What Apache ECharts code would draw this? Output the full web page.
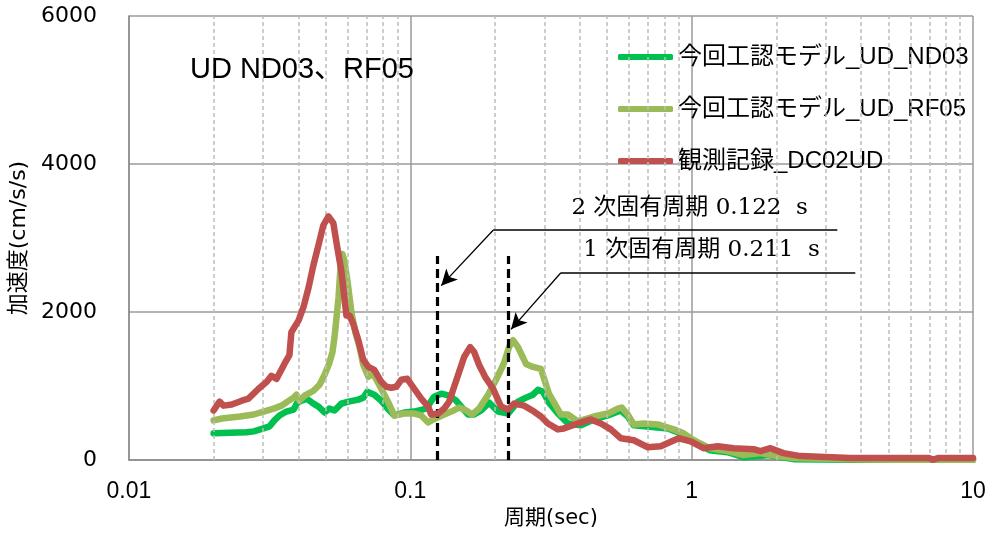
<!DOCTYPE html>
<html><head><meta charset="utf-8">
<script src="https://cdn.jsdelivr.net/npm/echarts@6/dist/echarts.min.js"></script>
<style>html,body{margin:0;padding:0;background:#fff}#c{width:1006px;height:534px}</style>
</head><body><div id="c"></div>
<script>
// ---- data ----
const nd03Period = [0.0200,0.0262,0.0278,0.0301,0.0316,0.0329,0.0343,0.0363,0.0385,0.0397,0.0411,0.0428,0.0453,0.0472,0.0496,0.0516,0.0538,0.0569,0.0603,0.0654,0.0681,0.0704,0.0745,0.0789,0.0836,0.0878,0.0952,0.1033,0.1139,0.1216,0.1288,0.1375,0.1456,0.1517,0.1606,0.1687,0.1786,0.1906,0.2051,0.2226,0.2415,0.2578,0.2730,0.2844,0.2963,0.3111,0.3348,0.3633,0.4041,0.4493,0.5037,0.5601,0.5929,0.6227,0.8221,0.9367,0.9919,1.158,1.342,1.529,1.860,2.299,3.663,10];
const nd03Accel  = [362,375,388,428,455,536,603,656,683,777,803,830,763,723,643,696,670,763,790,817,844,924,884,803,683,603,643,656,696,857,897,870,803,723,616,616,670,777,656,629,790,844,884,951,924,777,629,495,469,549,603,670,589,469,428,348,281,134,107,40,67,13,5,5];

const rf05Period = [0.0200,0.0214,0.0248,0.0278,0.0301,0.0327,0.0349,0.0366,0.0385,0.0394,0.0404,0.0421,0.0453,0.0476,0.0496,0.0516,0.0529,0.0538,0.0547,0.0556,0.0565,0.0574,0.0583,0.0598,0.0618,0.0638,0.0660,0.0681,0.0710,0.0739,0.0789,0.0836,0.0878,0.0952,0.1033,0.1094,0.1158,0.1207,0.1320,0.1398,0.1492,0.1580,0.1659,0.1757,0.1891,0.2018,0.2154,0.2244,0.2319,0.2415,0.2578,0.2730,0.2914,0.3111,0.3431,0.3633,0.3942,0.4493,0.5037,0.5466,0.5647,0.5929,0.6227,0.6757,0.7576,0.8633,0.9367,0.9919,1.068,1.158,1.342,1.529,1.757,2.018,2.299,3.663,5,10];
const rf05Accel  = [536,562,589,616,656,696,736,790,844,884,803,870,937,1018,1152,1312,1460,1660,1928,2196,2598,2785,2705,2424,1995,1727,1526,1285,1125,1165,964,777,603,629,629,603,509,549,616,656,710,670,616,696,884,1085,1312,1526,1620,1526,1299,1259,1232,897,616,616,522,589,629,696,710,616,482,495,482,415,362,295,228,161,121,67,94,54,27,13,5,5];

const obsPeriod = [0.0200,0.0210,0.0217,0.0232,0.0252,0.0266,0.0289,0.0309,0.0321,0.0335,0.0357,0.0372,0.0378,0.0401,0.0417,0.0435,0.0453,0.0472,0.0491,0.0512,0.0533,0.0547,0.0569,0.0583,0.0593,0.0608,0.0628,0.0654,0.0681,0.0710,0.0745,0.0789,0.0822,0.0856,0.0892,0.0929,0.0976,0.1033,0.1094,0.1158,0.1187,0.1257,0.1320,0.1375,0.1432,0.1492,0.1554,0.1632,0.1687,0.1757,0.1845,0.1970,0.2102,0.2226,0.2338,0.2537,0.2753,0.2914,0.3086,0.3348,0.3517,0.3942,0.4384,0.4757,0.5162,0.5601,0.6227,0.6982,0.7764,0.8993,0.9919,1.103,1.237,1.409,1.659,1.757,1.906,2.120,2.435,3.663,7.0,7.2,7.5,10];
const obsAccel  = [670,790,736,750,803,830,964,1058,1138,1098,1299,1419,1727,1888,2062,2330,2638,2906,3173,3294,3200,2932,2557,2196,1955,1955,1834,1620,1352,1259,1218,1058,991,977,991,1085,1098,964,830,723,616,629,696,790,991,1192,1393,1526,1460,1285,1125,964,723,683,763,736,656,589,495,415,428,495,549,495,415,295,268,174,187,295,254,161,187,161,147,121,161,94,54,27,27,5,27,27];

const seriesNames = ['今回工認モデル_UD_ND03','今回工認モデル_UD_RF05','観測記録_DC02UD'];
const seriesColors = ['#00C050','#9BBB59','#C0504D'];
const xTickLabels = ['0.01','0.1','1','10'];
const minorGridPeriods = [0.02,0.03,0.04,0.05,0.06,0.07,0.08,0.09,0.2,0.3,0.4,0.5,0.6,0.7,0.8,0.9,2,3,4,5,6,7,8,9];

// annotations (data space)
const modePeriods = [0.1246, 0.2226];
const modeLineTop = 2758;
const underlines = [[[0.197,3106],[3.294,3106]],[[0.343,2531],[3.816,2531]]];
const arrows = [[[0.197,3106],[0.1288,2357]],[[0.343,2531],[0.2281,1767]]];
const noteTexts = ['2 次固有周期 0.122  s','1 次固有周期 0.211  s'];
const notePos = [[0.984,3401],[1.085,2839]];

const zip = (a,b) => a.map((v,i)=>[v,b[i]]);
const sans = "'Liberation Sans', 'Noto Sans CJK JP', sans-serif";
const wide = "'DejaVu Sans', 'Noto Sans CJK JP', sans-serif";
const serif = "'DejaVu Serif', 'Noto Sans CJK JP', serif";

const chart = echarts.init(document.getElementById('c'));
const dataSeries = [[nd03Period,nd03Accel],[rf05Period,rf05Accel],[obsPeriod,obsAccel]].map((d,i)=>({
  name: seriesNames[i], type:'line', data: zip(d[0],d[1]), symbol:'none', showSymbol:false,
  smooth:false, z: 3+i,
  lineStyle:{color:seriesColors[i], width:6.5, cap:'round', join:'round'},
  itemStyle:{color:seriesColors[i]}
}));

chart.setOption({
  animation:false,
  backgroundColor:'#fff',
  title:{text:'UD ND03、RF05', left:190, top:55, padding:0,
    textStyle:{fontFamily:sans, fontSize:29, fontWeight:'normal', color:'#000'}},
  legend:{data:seriesNames, orient:'vertical', left:618, top:45, padding:0,
    icon:'roundRect', itemWidth:55, itemHeight:6, itemGap:28,
    lineStyle:{width:0, opacity:0},
    textStyle:{fontFamily:sans, fontSize:24, color:'#000'}},
  grid:{left:127, right:33, top:16, bottom:70},
  xAxis:{type:'log', logBase:10, min:0.01, max:10,
    name:'周期(sec)', nameLocation:'middle', nameGap:42,
    nameTextStyle:{fontFamily:wide, fontSize:21, color:'#000'},
    axisLine:{show:true, lineStyle:{color:'#8c8c8c', width:1.5}},
    axisTick:{show:false},
    axisLabel:{fontFamily:sans, fontSize:23, color:'#000', margin:20,
      formatter:v=>xTickLabels[Math.round(Math.log10(v))+2]},
    splitLine:{show:true, lineStyle:{color:'#9a9a9a', width:1.5}},
    minorTick:{show:false}, minorSplitLine:{show:false}},
  yAxis:{type:'value', min:0, max:6000, interval:2000,
    name:'加速度(cm/s/s)', nameLocation:'middle', nameGap:92,
    nameTextStyle:{fontFamily:wide, fontSize:22, color:'#000'},
    axisLine:{show:true, lineStyle:{color:'#8c8c8c', width:1.5}},
    axisTick:{show:false},
    axisLabel:{fontFamily:wide, fontSize:22, color:'#000', margin:32,
      formatter:v=>String(v)},
    splitLine:{show:true, lineStyle:{color:'#9a9a9a', width:1.5}}},
  series:[
    {name:'minor', type:'line', data:[], z:1, silent:true,
      markLine:{silent:true, symbol:['none','none'], label:{show:false},
        lineStyle:{color:'#bdbdbd', width:1.5, type:[4,3]},
        data:minorGridPeriods.map(p=>({xAxis:p}))}},
    ...dataSeries,
    {name:'modes', type:'line', data:[], z:8, silent:true,
      markLine:{silent:true, symbol:['none','none'], label:{show:false},
        lineStyle:{color:'#000', width:3.2, type:[9,5]},
        data:modePeriods.map(p=>[{coord:[p,0]},{coord:[p,modeLineTop]}])}},
    {name:'underlines', type:'line', data:[], z:8, silent:true,
      markLine:{silent:true, symbol:['none','none'], label:{show:false},
        lineStyle:{color:'#000', width:1.5, type:'solid'},
        data:underlines.map(l=>[{coord:l[0]},{coord:l[1]}])},
      markPoint:{silent:true, symbol:'circle', symbolSize:1, itemStyle:{color:'rgba(0,0,0,0)'},
        label:{show:true, position:'inside', color:'#000', fontFamily:serif, fontSize:23,
          formatter:p=>noteTexts[p.dataIndex]},
        data:notePos.map(c=>({coord:c}))}},
    {name:'arrows', type:'line', data:[], z:8, silent:true,
      markLine:{silent:true, symbol:['none','arrow'], symbolSize:[12,16], label:{show:false},
        lineStyle:{color:'#000', width:1.3, type:'solid'},
        data:arrows.map(l=>[{coord:l[0]},{coord:l[1]}])}}
  ]
});
</script></body></html>
